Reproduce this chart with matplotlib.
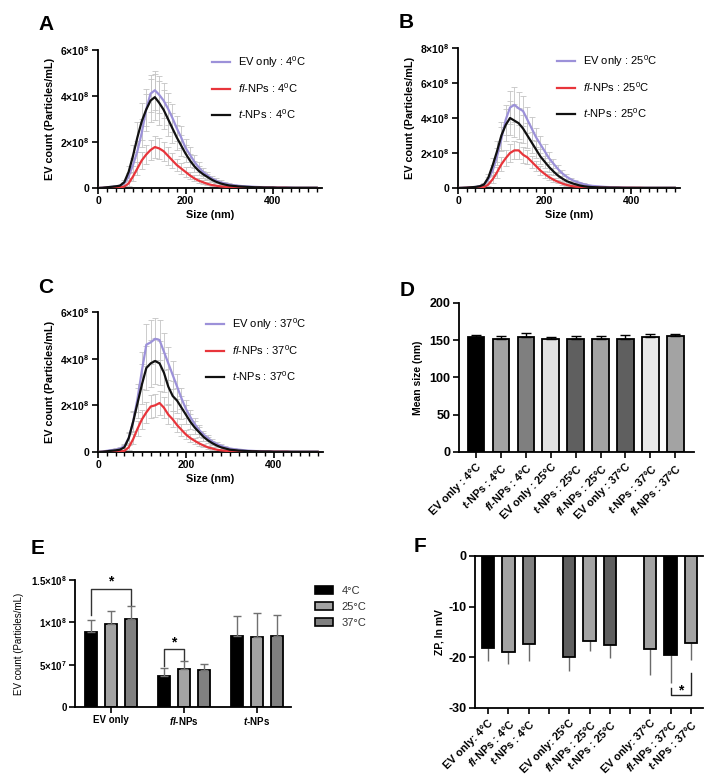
import numpy as np
import matplotlib
matplotlib.use("Agg")
import matplotlib.pyplot as plt
from matplotlib.patches import Patch
from matplotlib.ticker import MultipleLocator

plt.rcParams["font.family"] = ["Liberation Sans", "DejaVu Sans"]
plt.rcParams["mathtext.fontset"] = "custom"
plt.rcParams["mathtext.rm"] = "Liberation Sans"
plt.rcParams["mathtext.it"] = "Liberation Sans:italic"
plt.rcParams["mathtext.bf"] = "Liberation Sans:bold"
plt.rcParams["mathtext.bfit"] = "Liberation Sans:bold:italic"
plt.rcParams["axes.unicode_minus"] = False

W, H = 721, 783

# ---------------- NTA size distributions (x1e8 particles/mL), 10 nm bins -------------
size_nm = list(range(0, 510, 10))

ev_4c = [0.00, 0.01, 0.03, 0.05, 0.07, 0.10, 0.20, 0.50, 1.00, 1.60,
         2.40, 3.40, 4.10, 4.25, 4.05, 3.80, 3.45, 3.05, 2.60, 2.20,
         1.75, 1.45, 1.15, 0.90, 0.70, 0.55, 0.42, 0.32, 0.25, 0.20,
         0.15, 0.12, 0.10, 0.08, 0.07, 0.06, 0.05, 0.04, 0.04, 0.03,
         0.03, 0.02, 0.02, 0.02, 0.02, 0.01, 0.01, 0.01, 0.01, 0.01, 0.01]
ev_4c_err = [0.00, 0.01, 0.02, 0.03, 0.04, 0.05, 0.08, 0.15, 0.30, 0.45,
             0.60, 0.70, 0.80, 0.85, 0.80, 0.75, 0.70, 0.62, 0.55, 0.48,
             0.40, 0.34, 0.28, 0.22, 0.18, 0.15, 0.12, 0.10, 0.08, 0.07,
             0.06, 0.05, 0.04, 0.04, 0.03, 0.03, 0.03, 0.02, 0.02, 0.02,
             0.02, 0.02, 0.01, 0.01, 0.01, 0.01, 0.01, 0.01, 0.01, 0.01, 0.01]
fl_4c = [0.00, 0.00, 0.01, 0.02, 0.02, 0.03, 0.06, 0.20, 0.50, 0.85,
         1.20, 1.45, 1.65, 1.78, 1.72, 1.60, 1.40, 1.20, 1.00, 0.85,
         0.70, 0.55, 0.42, 0.32, 0.25, 0.18, 0.13, 0.10, 0.07, 0.05,
         0.04, 0.03, 0.03, 0.02, 0.02, 0.02, 0.01, 0.01, 0.01, 0.01,
         0.01, 0.01, 0.01, 0.01, 0.00, 0.00, 0.00, 0.00, 0.00, 0.00, 0.00]
fl_4c_err = [0.00, 0.00, 0.01, 0.01, 0.01, 0.02, 0.04, 0.10, 0.20, 0.30,
             0.38, 0.42, 0.45, 0.48, 0.46, 0.42, 0.38, 0.33, 0.28, 0.24,
             0.20, 0.16, 0.13, 0.10, 0.08, 0.06, 0.05, 0.04, 0.03, 0.02,
             0.02, 0.02, 0.01, 0.01, 0.01, 0.01, 0.01, 0.01, 0.01, 0.01,
             0.01, 0.01, 0.01, 0.01, 0.00, 0.00, 0.00, 0.00, 0.00, 0.00, 0.00]
t_4c = [0.00, 0.01, 0.03, 0.05, 0.07, 0.10, 0.25, 0.70, 1.40, 2.20,
        2.90, 3.40, 3.80, 3.95, 3.70, 3.40, 3.00, 2.60, 2.20, 1.85,
        1.50, 1.20, 0.95, 0.75, 0.60, 0.48, 0.36, 0.27, 0.20, 0.15,
        0.11, 0.09, 0.07, 0.06, 0.05, 0.04, 0.03, 0.03, 0.02, 0.02,
        0.02, 0.01, 0.01, 0.01, 0.01, 0.01, 0.01, 0.01, 0.01, 0.01, 0.01]
t_4c_err = [0.00, 0.01, 0.02, 0.03, 0.04, 0.05, 0.10, 0.25, 0.45, 0.65,
            0.80, 0.90, 0.95, 1.00, 0.95, 0.85, 0.75, 0.65, 0.55, 0.46,
            0.38, 0.30, 0.24, 0.19, 0.15, 0.12, 0.09, 0.07, 0.05, 0.04,
            0.03, 0.03, 0.02, 0.02, 0.02, 0.01, 0.01, 0.01, 0.01, 0.01,
            0.01, 0.01, 0.01, 0.01, 0.01, 0.01, 0.01, 0.01, 0.01, 0.01, 0.01]

ev_25c = [0.00, 0.01, 0.02, 0.04, 0.06, 0.10, 0.20, 0.50, 1.00, 1.80,
          2.80, 3.90, 4.60, 4.75, 4.55, 4.40, 3.90, 3.40, 2.90, 2.50,
          2.10, 1.70, 1.40, 1.10, 0.85, 0.65, 0.50, 0.38, 0.30, 0.22,
          0.16, 0.12, 0.10, 0.08, 0.06, 0.05, 0.04, 0.03, 0.03, 0.02,
          0.02, 0.01, 0.01, 0.01, 0.01, 0.01, 0.01, 0.01, 0.01, 0.01, 0.01]
ev_25c_err = [0.00, 0.01, 0.02, 0.03, 0.04, 0.05, 0.08, 0.15, 0.30, 0.50,
              0.70, 0.85, 0.95, 1.00, 0.95, 0.85, 0.75, 0.65, 0.55, 0.48,
              0.40, 0.33, 0.27, 0.22, 0.17, 0.13, 0.10, 0.08, 0.06, 0.05,
              0.04, 0.03, 0.03, 0.02, 0.02, 0.02, 0.01, 0.01, 0.01, 0.01,
              0.01, 0.01, 0.01, 0.01, 0.01, 0.01, 0.01, 0.01, 0.01, 0.01, 0.01]
fl_25c = [0.00, 0.00, 0.01, 0.02, 0.02, 0.03, 0.05, 0.20, 0.50, 0.90,
          1.35, 1.70, 2.00, 2.15, 2.15, 1.90, 1.75, 1.50, 1.25, 1.00,
          0.80, 0.62, 0.48, 0.36, 0.26, 0.18, 0.12, 0.08, 0.06, 0.04,
          0.03, 0.02, 0.02, 0.02, 0.01, 0.01, 0.01, 0.01, 0.01, 0.01,
          0.01, 0.01, 0.01, 0.00, 0.00, 0.00, 0.00, 0.00, 0.00, 0.00, 0.00]
fl_25c_err = [0.00, 0.00, 0.01, 0.01, 0.01, 0.02, 0.04, 0.10, 0.22, 0.32,
              0.40, 0.45, 0.50, 0.52, 0.50, 0.45, 0.40, 0.35, 0.30, 0.25,
              0.20, 0.16, 0.12, 0.09, 0.07, 0.05, 0.04, 0.03, 0.02, 0.02,
              0.01, 0.01, 0.01, 0.01, 0.01, 0.01, 0.01, 0.01, 0.01, 0.01,
              0.01, 0.01, 0.01, 0.00, 0.00, 0.00, 0.00, 0.00, 0.00, 0.00, 0.00]
t_25c = [0.00, 0.01, 0.02, 0.04, 0.06, 0.10, 0.20, 0.60, 1.30, 2.10,
         3.00, 3.60, 4.00, 3.85, 3.70, 3.40, 3.00, 2.60, 2.20, 1.80,
         1.50, 1.20, 0.95, 0.72, 0.55, 0.40, 0.30, 0.22, 0.15, 0.10,
         0.07, 0.05, 0.04, 0.03, 0.03, 0.02, 0.02, 0.02, 0.01, 0.01,
         0.01, 0.01, 0.01, 0.01, 0.01, 0.01, 0.01, 0.01, 0.01, 0.01, 0.01]
t_25c_err = [0.00, 0.01, 0.02, 0.03, 0.04, 0.05, 0.08, 0.20, 0.40, 0.60,
             0.80, 0.90, 0.95, 0.95, 0.90, 0.80, 0.70, 0.60, 0.50, 0.42,
             0.35, 0.28, 0.22, 0.17, 0.13, 0.10, 0.08, 0.06, 0.04, 0.03,
             0.02, 0.02, 0.02, 0.01, 0.01, 0.01, 0.01, 0.01, 0.01, 0.01,
             0.01, 0.01, 0.01, 0.01, 0.01, 0.01, 0.01, 0.01, 0.01, 0.01, 0.01]

ev_37c = [0.00, 0.02, 0.05, 0.08, 0.10, 0.15, 0.25, 0.60, 1.30, 2.30,
          3.50, 4.60, 4.70, 4.85, 4.80, 4.30, 3.80, 3.30, 2.80, 2.30,
          1.85, 1.50, 1.20, 0.95, 0.75, 0.60, 0.45, 0.35, 0.27, 0.20,
          0.15, 0.12, 0.10, 0.08, 0.06, 0.05, 0.04, 0.04, 0.03, 0.03,
          0.02, 0.02, 0.02, 0.02, 0.01, 0.01, 0.01, 0.01, 0.01, 0.01, 0.01]
ev_37c_err = [0.00, 0.01, 0.03, 0.04, 0.05, 0.06, 0.10, 0.20, 0.40, 0.60,
              0.80, 0.90, 0.95, 0.90, 0.85, 0.80, 0.70, 0.62, 0.55, 0.46,
              0.38, 0.31, 0.25, 0.20, 0.16, 0.13, 0.10, 0.08, 0.06, 0.05,
              0.04, 0.03, 0.03, 0.02, 0.02, 0.02, 0.01, 0.01, 0.01, 0.01,
              0.01, 0.01, 0.01, 0.01, 0.01, 0.01, 0.01, 0.01, 0.01, 0.01, 0.01]
fl_37c = [0.00, 0.00, 0.01, 0.02, 0.02, 0.03, 0.05, 0.20, 0.55, 1.00,
          1.40, 1.70, 1.95, 2.00, 2.10, 1.90, 1.60, 1.40, 1.15, 0.95,
          0.75, 0.60, 0.48, 0.37, 0.28, 0.20, 0.15, 0.10, 0.07, 0.05,
          0.04, 0.03, 0.03, 0.02, 0.02, 0.02, 0.01, 0.01, 0.01, 0.01,
          0.01, 0.01, 0.01, 0.01, 0.00, 0.00, 0.00, 0.00, 0.00, 0.00, 0.00]
fl_37c_err = [0.00, 0.00, 0.01, 0.01, 0.01, 0.02, 0.04, 0.10, 0.22, 0.32,
              0.40, 0.45, 0.48, 0.50, 0.50, 0.45, 0.40, 0.35, 0.30, 0.25,
              0.20, 0.16, 0.13, 0.10, 0.08, 0.06, 0.05, 0.04, 0.03, 0.02,
              0.02, 0.02, 0.01, 0.01, 0.01, 0.01, 0.01, 0.01, 0.01, 0.01,
              0.01, 0.01, 0.01, 0.01, 0.00, 0.00, 0.00, 0.00, 0.00, 0.00, 0.00]
t_37c = [0.00, 0.01, 0.03, 0.05, 0.07, 0.10, 0.20, 0.60, 1.30, 2.10,
         2.90, 3.60, 3.80, 3.90, 3.80, 3.40, 2.80, 2.40, 2.20, 1.90,
         1.60, 1.30, 1.05, 0.85, 0.65, 0.50, 0.38, 0.28, 0.20, 0.15,
         0.10, 0.08, 0.06, 0.05, 0.04, 0.03, 0.03, 0.02, 0.02, 0.02,
         0.01, 0.01, 0.01, 0.01, 0.01, 0.01, 0.01, 0.01, 0.01, 0.01, 0.01]
t_37c_err = [0.00, 0.01, 0.02, 0.03, 0.04, 0.05, 0.10, 0.25, 0.45, 0.65,
             0.85, 0.95, 1.00, 1.00, 0.95, 0.85, 0.75, 0.65, 0.55, 0.48,
             0.40, 0.32, 0.26, 0.21, 0.17, 0.13, 0.10, 0.08, 0.06, 0.04,
             0.03, 0.03, 0.02, 0.02, 0.02, 0.01, 0.01, 0.01, 0.01, 0.01,
             0.01, 0.01, 0.01, 0.01, 0.01, 0.01, 0.01, 0.01, 0.01, 0.01, 0.01]

# ---------------- D: mean size ----------------
mean_labels = [r"EV only : 4°C", r"$\mathbfit{t}$-NPs : 4°C", r"$\mathbfit{fl}$-NPs : 4°C",
               r"EV only : 25°C", r"$\mathbfit{t}$-NPs : 25°C", r"$\mathbfit{fl}$-NPs : 25°C",
               r"EV only : 37°C", r"$\mathbfit{t}$-NPs : 37°C", r"$\mathbfit{fl}$-NPs : 37°C"]
mean_size = [154, 152, 155, 152, 152, 152, 152, 154, 156]
mean_size_err = [3, 4, 5, 3, 4, 4, 5, 4, 3]
mean_colors = ["#000000", "#a3a3a3", "#7f7f7f", "#e2e2e2", "#5f5f5f",
               "#a3a3a3", "#5f5f5f", "#e8e8e8", "#a3a3a3"]

# ---------------- E: EV count by group and temperature ----------------
count_groups = ["EV only", r"$\mathbfit{fl}$-NPs", r"$\mathbfit{t}$-NPs"]
temps = ["4°C", "25°C", "37°C"]
count_4c = [0.885e8, 0.365e8, 0.835e8]
count_25c = [0.976e8, 0.443e8, 0.83e8]
count_37c = [1.043e8, 0.435e8, 0.842e8]
count_4c_err = [0.145e8, 0.09e8, 0.235e8]
count_25c_err = [0.158e8, 0.097e8, 0.277e8]
count_37c_err = [0.147e8, 0.075e8, 0.245e8]
temp_colors = ["#000000", "#a3a3a3", "#808080"]

# ---------------- F: zeta potential ----------------
zp_labels = ["EV only: 4°C", r"$\mathbfit{fl}$-NPs : 4°C", r"$\mathbfit{t}$-NPs : 4°C",
             "EV only: 25°C", r"$\mathbfit{fl}$-NPs : 25°C", r"$\mathbfit{t}$-NPs : 25°C",
             "EV only: 37°C", r"$\mathbfit{fl}$-NPs : 37°C", r"$\mathbfit{t}$-NPs : 37°C"]
zp_mean = [-18.1, -19.0, -17.3, -19.9, -16.7, -17.5, -18.4, -19.6, -17.1]
zp_err = [2.6, 2.4, 3.5, 2.7, 2.0, 2.6, 5.0, 5.5, 3.4]
zp_colors = ["#000000", "#a3a3a3", "#808080", "#5f5f5f", "#a3a3a3",
             "#5f5f5f", "#a3a3a3", "#000000", "#a3a3a3"]

EV_COLOR = "#9c91d9"
FL_COLOR = "#e8353b"
T_COLOR = "#111111"


def rect(l, t, r, b):
    return [l / W, 1 - b / H, (r - l) / W, (b - t) / H]


def sci(v):
    if v == 0:
        return "0"
    exp = int(np.floor(np.log10(v) + 1e-9))
    man = v / 10 ** exp
    return rf"$\mathbf{{{man:g}{{\times}}10^{{{exp}}}}}$"


def style_axes(ax, fs=7.5, yfs=None):
    for s in ["top", "right"]:
        ax.spines[s].set_visible(False)
    for s in ["left", "bottom"]:
        ax.spines[s].set_linewidth(1.3)
    ax.tick_params(width=1.2, length=4, labelsize=fs, pad=2)
    if yfs:
        ax.tick_params(axis="y", labelsize=yfs)
    for lbl in ax.get_xticklabels() + ax.get_yticklabels():
        lbl.set_fontweight("bold")


fig = plt.figure(figsize=(W / 100, H / 100), dpi=100)


def size_panel(box, letter, temp, ymax, data, legend_xy):
    ax = fig.add_axes(rect(*box))
    names = ["EV only", r"$\it{fl}$-NPs", r"$\it{t}$-NPs"]
    colors = [EV_COLOR, FL_COLOR, T_COLOR]
    for (vals, err) in data:
        ax.errorbar(size_nm, np.array(vals) * 1e8, yerr=np.array(err) * 1e8, fmt="none",
                    ecolor="#c4c4c4", elinewidth=0.6, capsize=2.2, capthick=0.6, zorder=1)
    handles = []
    for (vals, err), name, c in zip(data, names, colors):
        h, = ax.plot(size_nm, np.array(vals) * 1e8, color=c, lw=1.6, zorder=3,
                     label=rf"{name} : {temp}$^{{0}}$C")
        handles.append(h)
    ax.set_xlim(0, 512)
    ax.set_ylim(0, ymax)
    ax.xaxis.set_major_locator(MultipleLocator(200))
    ax.xaxis.set_minor_locator(MultipleLocator(20))
    ax.tick_params(which="minor", width=1.0, length=3)
    yt = np.arange(0, ymax + 1, 2e8)
    ax.set_yticks(yt)
    ax.set_yticklabels([sci(v) for v in yt])
    style_axes(ax)
    ax.set_xlabel("Size (nm)", fontsize=7.8, fontweight="bold", labelpad=3)
    ax.set_ylabel("EV count (Particles/mL)", fontsize=7.8, fontweight="bold", labelpad=4)
    fig.legend(handles=handles, loc="upper left",
               bbox_to_anchor=(legend_xy[0] / W, 1 - legend_xy[1] / H),
               frameon=False, fontsize=8, handlelength=1.6, handletextpad=0.7,
               labelspacing=1.05, borderpad=0, borderaxespad=0)
    fig.text((box[0] - 52) / W, 1 - (box[1] - 25) / H, letter, fontsize=15,
             fontweight="bold", ha="center", va="center")
    return ax


size_panel((98, 50, 322, 188), "A", "4", 6e8,
           [(ev_4c, ev_4c_err), (fl_4c, fl_4c_err), (t_4c, t_4c_err)], (212, 54))
size_panel((458, 48, 680, 188), "B", "25", 8e8,
           [(ev_25c, ev_25c_err), (fl_25c, fl_25c_err), (t_25c, t_25c_err)], (557, 53))
size_panel((98, 312, 323, 452), "C", "37", 6e8,
           [(ev_37c, ev_37c_err), (fl_37c, fl_37c_err), (t_37c, t_37c_err)], (206, 316))

# ---------------- D ----------------
axd = fig.add_axes(rect(459, 303, 694, 452))
xd = np.arange(len(mean_size))
axd.bar(xd, mean_size, width=0.66, color=mean_colors, edgecolor="black", linewidth=1.3,
        zorder=2)
axd.errorbar(xd, mean_size, yerr=[np.zeros(len(mean_size)), mean_size_err], fmt="none",
             ecolor="black", elinewidth=1.0, capsize=3.5, capthick=1.0, zorder=3)
axd.set_xlim(-0.68, 8.75)
axd.set_ylim(0, 200)
axd.set_yticks([0, 50, 100, 150, 200])
axd.set_xticks(xd)
axd.set_xticklabels(mean_labels, rotation=45, ha="right", rotation_mode="anchor")
style_axes(axd, fs=7.8, yfs=9)
axd.tick_params(axis="x", pad=3)
axd.set_ylabel("Mean size (nm)", fontsize=7.5, fontweight="bold", labelpad=5)
fig.text(407 / W, 1 - 290 / H, "D", fontsize=15, fontweight="bold", ha="center", va="center")

# ---------------- E ----------------
axe = fig.add_axes(rect(75, 580, 291, 707))
xe = np.arange(len(count_groups))
off = 0.274
for i, (vals, err, c, lab) in enumerate(zip([count_4c, count_25c, count_37c],
                                            [count_4c_err, count_25c_err, count_37c_err],
                                            temp_colors, temps)):
    pos = xe + (i - 1) * off
    axe.bar(pos, vals, width=0.165, color=c, edgecolor="black", linewidth=1.3, zorder=2,
            label=lab)
    axe.errorbar(pos, vals, yerr=[np.zeros(3), err], fmt="none", ecolor="#707070",
                 elinewidth=1.0, capsize=3, capthick=1.0, zorder=3)
axe.set_xlim(-0.49, 2.47)
axe.set_ylim(0, 1.5e8)
ye = [0, 5e7, 1e8, 1.5e8]
axe.set_yticks(ye)
axe.set_yticklabels([sci(v) for v in ye])
axe.set_xticks(xe)
axe.set_xticklabels(count_groups)
style_axes(axe, fs=7)
axe.set_ylabel("EV count (Particles/mL)", fontsize=7, labelpad=5)
# significance brackets
axe.plot([-off, -off, off, off], [1.09e8, 1.395e8, 1.395e8, 1.21e8], color="#333333", lw=1.0)
axe.text(0, 1.40e8, "*", ha="center", va="bottom", fontsize=10, fontweight="bold")
axe.plot([1 - off, 1 - off, 1, 1], [0.485e8, 0.68e8, 0.68e8, 0.56e8], color="#333333", lw=1.0)
axe.text(1 - off / 2, 0.685e8, "*", ha="center", va="bottom", fontsize=10, fontweight="bold")
handles_e = [Patch(facecolor=c, edgecolor="black", linewidth=1.2, label=t)
             for c, t in zip(temp_colors, temps)]
fig.legend(handles=handles_e, loc="upper left", bbox_to_anchor=(315 / W, 1 - 586 / H),
           frameon=False, fontsize=8, handlelength=1.6, handleheight=0.7,
           handletextpad=0.8, labelspacing=0.55, borderpad=0, borderaxespad=0,
           labelcolor="#333333")
fig.text(38 / W, 1 - 548 / H, "E", fontsize=15, fontweight="bold", ha="center", va="center")

# ---------------- F ----------------
axf = fig.add_axes(rect(475, 556, 703, 708))
xf = [g * 4 + i for g in range(3) for i in range(3)]
axf.bar(xf, zp_mean, width=0.61, color=zp_colors, edgecolor="black", linewidth=1.3,
        zorder=2)
axf.errorbar(xf, zp_mean, yerr=[zp_err, np.zeros(len(zp_err))], fmt="none",
             ecolor="#6a6a6a", elinewidth=1.0, capsize=0, zorder=1)
axf.set_xlim(-0.65, 10.6)
axf.set_ylim(-30, 0)
axf.set_yticks([0, -10, -20, -30])
all_ticks = list(range(11))
tick_text = [""] * 11
for p, lab in zip(xf, zp_labels):
    tick_text[p] = lab
axf.set_xticks(all_ticks)
axf.set_xticklabels(tick_text, rotation=45, ha="right", rotation_mode="anchor")
style_axes(axf, fs=7.8, yfs=9)
axf.spines["top"].set_visible(True)
axf.spines["top"].set_linewidth(1.3)
axf.tick_params(axis="x", pad=3)
axf.set_ylabel("ZP, In mV", fontsize=7.5, fontweight="bold", labelpad=3)
axf.plot([9, 9, 10, 10], [-26.0, -27.5, -27.5, -23.0], color="#222222", lw=1.0)
axf.text(9.5, -26.6, "*", ha="center", va="center", fontsize=10, fontweight="bold")
fig.text(420 / W, 1 - 547 / H, "F", fontsize=15, fontweight="bold", ha="center", va="center")

fig.savefig("out.png", dpi=100, facecolor="white")
